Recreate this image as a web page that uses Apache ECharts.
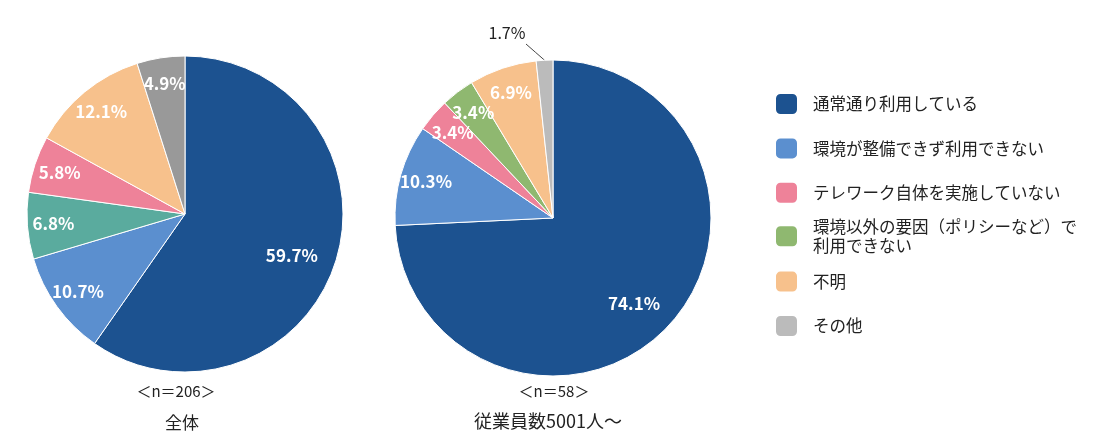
<!DOCTYPE html>
<html>
<head>
<meta charset="utf-8">
<script src="https://cdn.jsdelivr.net/npm/echarts@6/dist/echarts.min.js"></script>
<style>
html, body { margin: 0; background: #fff; }
#main { width: 1117px; height: 446px; }
</style>
</head>
<body>
<div id="main"></div>
<script>
// 凡例の項目
var categories = ['通常通り利用している', '環境が整備できず利用できない', 'テレワーク自体を実施していない',
  '環境以外の要因（ポリシーなど）で利用できない', '不明', 'その他'];
var legendColors = ['#1c5290', '#5b8fcf', '#ee8299', '#8fb870', '#f7c18c', '#bbbbbb'];

// 全体 <n=206>（時計回りの順）
var allOrder = [0, 1, 3, 2, 4, 5];
var allValues = [59.7, 10.7, 6.8, 5.8, 12.1, 4.9];
var allColors = ['#1c5290', '#5b8fcf', '#5aab9e', '#ee8299', '#f7c18c', '#999999'];

// 従業員数5001人～ <n=58>
var bigOrder = [0, 1, 2, 3, 4, 5];
var bigValues = [74.1, 10.3, 3.4, 3.4, 6.9, 1.7];
var bigColors = ['#1c5290', '#5b8fcf', '#ee8299', '#8fb870', '#f7c18c', '#bbbbbb'];

var FONT = '"Noto Sans CJK JP", "Noto Sans", sans-serif';

function makeData(order, values, colors) {
  return values.map(function (v, i) {
    return { name: categories[order[i]], value: v, itemStyle: { color: colors[i] } };
  });
}

function mainPie(center, data) {
  return {
    type: 'pie',
    center: center,
    radius: [0, 158],
    startAngle: 90,
    clockwise: true,
    avoidLabelOverlap: false,
    label: { show: false },
    labelLine: { show: false },
    itemStyle: { borderColor: '#fff', borderWidth: 1 },
    data: data
  };
}

// ラベル用の透明なリング（ラベルを外周寄りに置くため）
// 大きい扇形のラベルは少し中心寄りにずらす
function labelPie(center, data) {
  var total = data.reduce(function (s, d) { return s + d.value; }, 0);
  var cum = 0;
  return {
    type: 'pie',
    center: center,
    radius: [100, 158],
    startAngle: 90,
    clockwise: true,
    silent: true,
    avoidLabelOverlap: false,
    itemStyle: { color: 'rgba(0,0,0,0)', borderWidth: 0 },
    label: {
      show: true,
      position: 'inside',
      color: '#fff',
      fontSize: 17,
      fontWeight: 'bold',
      fontFamily: FONT,
      formatter: function (p) { return p.value.toFixed(1) + '%'; }
    },
    labelLine: { show: false },
    data: data.map(function (d) {
      var mid = (cum + d.value / 2) / total;
      cum += d.value;
      var item = { name: d.name, value: d.value };
      if (d.value > 50) {
        var a = (90 - 360 * mid) * Math.PI / 180;
        item.label = { offset: [-20 * Math.cos(a), 20 * Math.sin(a) + 8] };
      }
      return item;
    })
  };
}

var allData = makeData(allOrder, allValues, allColors);
var bigData = makeData(bigOrder, bigValues, bigColors);

var bigLabels = labelPie([553, 218], bigData);
bigLabels.data[5].label = { position: 'outside', color: '#222', fontWeight: 'normal', fontSize: 16 };
bigLabels.data[5].labelLine = { show: true, length: 15, length2: 10, lineStyle: { color: '#444', width: 1 } };
// 1.7% のラベルは左上へ、引き出し線は斜め一本に
bigLabels.labelLayout = function (p) {
  if (p.dataIndex !== 5) return;
  var out = { x: 507, y: 33, align: 'center', verticalAlign: 'middle' };
  if (p.labelLinePoints) {
    var anchor = p.labelLinePoints[0];
    var end = [526, 44];
    out.labelLinePoints = [anchor, [(anchor[0] + end[0]) / 2, (anchor[1] + end[1]) / 2], end];
  }
  return out;
};

// 凡例は1項目ずつ等間隔に並べる
var legendRowStep = 44.4;
var legends = categories.map(function (n, i) {
  var twoLine = (i === 3);
  var centerY = 103 + i * legendRowStep;
  return {
    orient: 'vertical',
    left: 774,
    top: centerY - (twoLine ? 19 : 11),
    padding: 0,
    itemWidth: 23,
    itemHeight: 22,
    icon: 'roundRect',
    selectedMode: false,
    data: [{ name: n, itemStyle: { color: legendColors[i] } }],
    formatter: function (name) {
      return twoLine ? '環境以外の要因（ポリシーなど）で\n利用できない' : name;
    },
    textStyle: { fontSize: 16.5, color: '#222', fontFamily: FONT, lineHeight: 19, padding: [0, 0, 0, 10] }
  };
});

var myChart = echarts.init(document.getElementById('main'));

var option = {
  animation: false,
  legend: legends,
  graphic: [
    { type: 'text', x: 176, y: 391, style: { text: '＜n＝206＞', align: 'center', verticalAlign: 'middle', fontSize: 15, fontFamily: FONT, fill: '#222' } },
    { type: 'text', x: 182, y: 423, style: { text: '全体', align: 'center', verticalAlign: 'middle', fontSize: 17, fontFamily: FONT, fill: '#222' } },
    { type: 'text', x: 554, y: 391, style: { text: '＜n＝58＞', align: 'center', verticalAlign: 'middle', fontSize: 15, fontFamily: FONT, fill: '#222' } },
    { type: 'text', x: 548, y: 421, style: { text: '従業員数5001人～', align: 'center', verticalAlign: 'middle', fontSize: 18, fontFamily: FONT, fill: '#222' } }
  ],
  series: [
    mainPie([185, 214], allData),
    labelPie([185, 214], allData),
    mainPie([553, 218], bigData),
    bigLabels
  ]
};

myChart.setOption(option);
</script>
</body>
</html>
